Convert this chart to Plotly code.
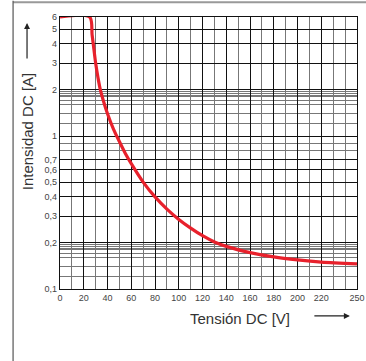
import plotly.graph_objects as go

# Data
voltage = [0, 25, 27, 28, 30, 32, 34, 37, 40, 45, 50, 55, 60, 70, 80, 90, 100, 110, 120, 130, 140, 160, 180, 200, 220, 250]
current = [6, 6, 4.6, 4.0, 3.0, 2.4, 2.0, 1.65, 1.40, 1.11, 0.92, 0.77, 0.66, 0.5, 0.4, 0.333, 0.285, 0.25, 0.223, 0.203, 0.19, 0.173, 0.162, 0.155, 0.15, 0.146]

x_tickvals = [0, 20, 40, 60, 80, 100, 120, 140, 160, 180, 200, 220, 250]
x_ticktext = ["0", "20", "40", "60", "80", "100", "120", "140", "160", "180", "200", "220", "250"]
x_minor = [10, 30, 50, 70, 90, 110, 130, 150, 170, 190, 210, 230, 240]

y_tickvals = [0.1, 0.2, 0.3, 0.4, 0.5, 0.6, 0.7, 1, 2, 3, 4, 5, 6]
y_ticktext = ["0,1", "0,2", "0,3", "0,4", "0,5", "0,6", "0,7", "1", "2", "3", "4", "5", "6"]
y_minor = [0.12, 0.14, 0.16, 0.17, 0.18, 0.185, 0.19, 0.195, 0.8, 0.9,
           1.2, 1.4, 1.6, 1.7, 1.8, 1.85, 1.9, 1.95]

fig = go.Figure()
fig.add_trace(go.Scatter(
    x=voltage, y=current, mode="lines",
    line=dict(color="#e8212c", width=3.2, shape="spline", smoothing=0.8),
    hoverinfo="skip", showlegend=False,
))

font = "Liberation Sans, Arial, sans-serif"

fig.update_layout(
    width=366, height=361,
    margin=dict(l=60, r=9, t=17, b=72),
    paper_bgcolor="white", plot_bgcolor="white",
    font=dict(family=font, color="#333"),
    xaxis=dict(
        range=[0, 250], tickvals=x_tickvals, ticktext=x_ticktext,
        showgrid=True, gridcolor="#111", gridwidth=1,
        minor=dict(tickvals=x_minor, showgrid=True, gridcolor="#777", gridwidth=1.2),
        showline=True, linecolor="#111", linewidth=1.2, mirror=True,
        ticks="", tickfont=dict(size=9, color="#444", family=font),
        zeroline=False, fixedrange=True, automargin=False,
    ),
    yaxis=dict(
        type="log", range=[-1, 0.77815],
        tickvals=y_tickvals, ticktext=y_ticktext,
        showgrid=True, gridcolor="#111", gridwidth=1,
        minor=dict(tickvals=y_minor, showgrid=True, gridcolor="#777", gridwidth=1.2),
        showline=True, linecolor="#111", linewidth=1.2, mirror=True,
        ticks="", tickfont=dict(size=9, color="#444", family=font),
        zeroline=False, fixedrange=True, automargin=False,
    ),
    shapes=[
        dict(type="line", xref="paper", yref="paper",
             x0=-0.158, x1=1.1, y0=1.0545, y1=1.0545,
             line=dict(color="#999", width=2), layer="above"),
        dict(type="line", xref="paper", yref="paper",
             x0=-0.158, x1=-0.158, y0=-0.4, y1=1.06,
             line=dict(color="#555", width=1.2), layer="above"),
    ],
    annotations=[
        dict(text="Intensidad DC [A]", xref="paper", yref="paper",
             x=-0.111, y=0.58, textangle=-90, showarrow=False,
             font=dict(size=15, color="#333", family=font),
             xanchor="center", yanchor="middle"),
        dict(text="Tensión DC [V]", xref="paper", yref="paper",
             x=0.606, y=-0.11, showarrow=False,
             font=dict(size=15, color="#333", family=font),
             xanchor="center", yanchor="middle"),
        dict(text="", xref="paper", yref="paper", x=0.976, y=-0.099,
             showarrow=True, ax=-37, ay=0, arrowhead=2, arrowsize=1,
             arrowwidth=1.2, arrowcolor="#222"),
        dict(text="", xref="paper", yref="paper", x=-0.111, y=0.978,
             showarrow=True, ax=0, ay=37, arrowhead=2, arrowsize=1,
             arrowwidth=1.2, arrowcolor="#222"),
    ],
)

fig.write_html("out.html", config={"displayModeBar": False},
               post_script="document.body.style.margin='0';")
